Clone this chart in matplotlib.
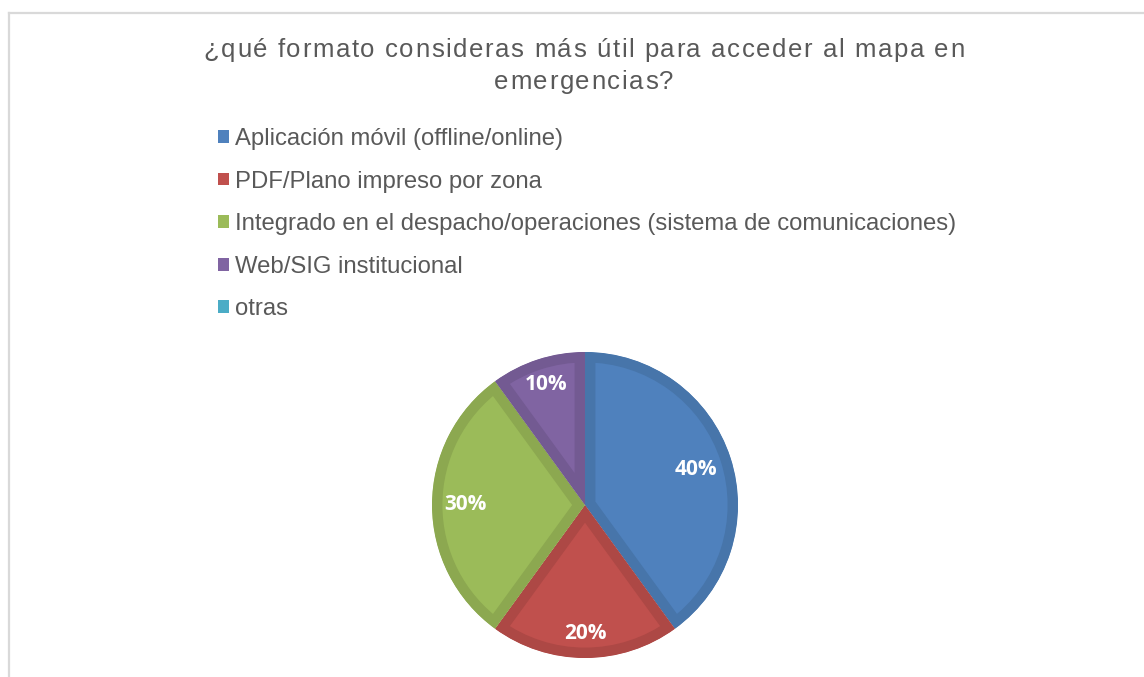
import math

import matplotlib
matplotlib.use("Agg")
import matplotlib.pyplot as plt
from matplotlib.font_manager import FontProperties, findfont
from matplotlib.ft2font import FT2Font
from matplotlib.lines import Line2D
from matplotlib.patches import Patch

# datos
categorias = [
    "Aplicación móvil (offline/online)",
    "PDF/Plano impreso por zona",
    "Integrado en el despacho/operaciones (sistema de comunicaciones)",
    "Web/SIG institucional",
    "otras",
]
valores = [40, 20, 30, 10, 0]
titulo = ["¿qué formato consideras más útil para acceder al mapa en", "emergencias?"]

colores = ["#4F81BD", "#C0504D", "#9BBB59", "#8064A2", "#4BACC6"]
bordes = ["#4775AA", "#AD4845", "#8CA850", "#735A92", "#449BB2"]
dist_etiquetas = [0.76, 0.84, 0.78, 0.83, 0.8]

plt.rcParams["font.family"] = ["Liberation Sans", "DejaVu Sans"]

W, H = 1144, 677
DPI = 100
fig = plt.figure(figsize=(W / DPI, H / DPI), dpi=DPI)
fig.patch.set_facecolor("white")

# marco del gráfico (solo se ve arriba e izquierda)
fig.add_artist(Line2D([9 / W, 9 / W], [0, 1 - 13 / H], color="#D9D9D9", lw=1.6))
fig.add_artist(Line2D([9 / W, 1], [1 - 13 / H, 1 - 13 / H], color="#D9D9D9", lw=1.6))


# título con espaciado entre caracteres (como en Excel)
def texto_espaciado(linea, xc, yb, size, extra, color):
    fuente = FT2Font(findfont(FontProperties(family="Liberation Sans")))
    fuente.set_size(size, DPI)
    avances = []
    for ch in linea:
        g = fuente.load_char(ord(ch))
        avances.append(g.linearHoriAdvance / 65536)
    total = sum(avances) + extra * (len(linea) - 1)
    x = xc - total / 2
    for ch, a in zip(linea, avances):
        if ch != " ":
            fig.text(x / W, 1 - yb / H, ch, ha="left", va="baseline",
                     fontsize=size, color=color)
        x += a + extra


texto_espaciado(titulo[0], 584, 57, 18.5, 1.6, "#595959")
texto_espaciado(titulo[1], 584, 89, 18.5, 1.6, "#595959")

# pie
cx, cy, r = 585, 505, 153
ax = fig.add_axes([(cx - r) / W, (H - cy - r) / H, 2 * r / W, 2 * r / H])
vals_pie = [v for v in valores if v > 0]
cols_pie = [c for v, c in zip(valores, colores) if v > 0]
bords_pie = [b for v, b in zip(valores, bordes) if v > 0]
wedges, _ = ax.pie(vals_pie, colors=cols_pie, startangle=90, counterclock=False,
                   radius=1.0, wedgeprops=dict(linewidth=0))
for w, b in zip(wedges, bords_pie):
    w.set_edgecolor(b)
    w.set_linewidth(15)
    w.set_joinstyle("miter")
    w.set_clip_on(True)
    w.set_clip_path(w)

total = sum(vals_pie)
ang = 90.0
for v, d in zip(vals_pie, dist_etiquetas):
    span = 360.0 * v / total
    mid = math.radians(ang - span / 2)
    ax.text(d * math.cos(mid), d * math.sin(mid), f"{v}%", ha="center", va="center",
            color="white", fontsize=15, fontweight="bold", family=["Open Sans", "DejaVu Sans"])
    ang -= span
ax.set_xlim(-1, 1)
ax.set_ylim(-1, 1)
ax.set_aspect("equal")
ax.axis("off")

# leyenda
handles = [Patch(facecolor=c, edgecolor="none") for c in colores]
leg = fig.legend(handles, categorias, loc="upper left", bbox_to_anchor=(218 / W, 1 - 128 / H),
                 frameon=False, fontsize=17.2, labelcolor="#595959", handlelength=0.45,
                 handleheight=0.45, handletextpad=0.28, labelspacing=0.86, borderpad=0,
                 borderaxespad=0)

fig.savefig("out.png", dpi=DPI)
